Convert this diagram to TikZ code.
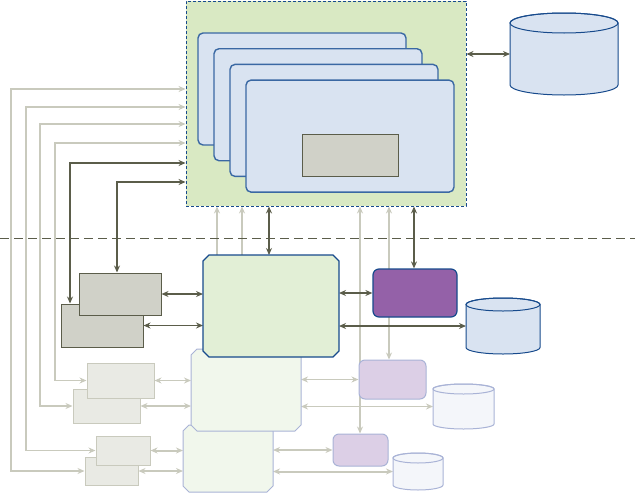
\documentclass[tikz,border=0pt]{standalone}
\definecolor{PlanNavy}{HTML}{174A8C}
\definecolor{CardBlue}{HTML}{D9E3F1}
\definecolor{CardEdge}{HTML}{3A68A3}
\definecolor{ZoneGreen}{HTML}{D9E9C3}
\definecolor{CoreGreen}{HTML}{E2EFD6}
\definecolor{PaleGreen}{HTML}{F1F7EC}
\definecolor{SlateDark}{HTML}{5B5D4A}
\definecolor{SlateFill}{HTML}{D0D1C8}
\definecolor{SlateLight}{HTML}{C9CABD}
\definecolor{SlatePale}{HTML}{E9EAE4}
\definecolor{PlumDeep}{HTML}{9461A8}
\definecolor{PlumPale}{HTML}{DCCFE6}
\definecolor{PaleEdge}{HTML}{A9B3D6}
\definecolor{StorePale}{HTML}{F4F6FA}
\usepackage{tikz}
\usetikzlibrary{arrows.meta, backgrounds}

\begin{document}
\begin{tikzpicture}[x=1pt, y=-1pt, >={Stealth[length=7pt,width=6pt]},
		zone/.style={draw=PlanNavy, dash pattern=on 3pt off 2pt, line width=0.9pt, fill=ZoneGreen, minimum width=280pt, minimum height=205pt, inner sep=0pt},
		card/.style={draw=CardEdge, line width=1.4pt, fill=CardBlue, rounded corners=5pt, minimum width=208pt, minimum height=112pt, inner sep=0pt},
		slate/.style={draw=SlateDark, line width=1pt, fill=SlateFill, inner sep=0pt},
		pale/.style={draw=SlateLight, line width=1pt, fill=SlatePale, inner sep=0pt},
		hollow/.style={rectangle, draw=none, inner sep=0pt, outer sep=0pt},
		plum/.style={draw=PlanNavy, line width=1.2pt, fill=PlumDeep, rounded corners=6pt, inner sep=0pt},
		plumpale/.style={plum, draw=PaleEdge, line width=1pt, fill=PlumPale},
		dark/.style={draw=SlateDark, line width=1.8pt},
		lite/.style={draw=SlateLight, line width=1.2pt}]
	\useasboundingbox (0,0) rectangle (635,493);
	\node[zone] (zone) at (326,103.5) {};
	\foreach \i in {0,...,3}
		\node[card] (card\i) at (302+16*\i, 89+15.7*\i) {};
	\node[slate, minimum width=96pt, minimum height=42pt] (probe) at (350,155) {};
	\draw[draw=SlateDark, dash pattern=on 9pt off 5pt, line width=0.9pt] (0,238) -- (635,238);
	\node[slate, minimum width=82pt, minimum height=43pt] (gb2) at (102,325.5) {};
	\node[slate, minimum width=82pt, minimum height=42pt] (gb1) at (120,294) {};
	\node[pale, minimum width=67pt, minimum height=34pt] (lb2) at (106.5,406) {};
	\node[pale, minimum width=67pt, minimum height=35pt] (lb1) at (120.5,380.5) {};
	\node[pale, minimum width=53pt, minimum height=28pt] (lb4) at (111.5,471) {};
	\node[pale, minimum width=54pt, minimum height=29pt] (lb3) at (123,450.5) {};
	\foreach \n/\cx/\cy/\w/\h/\fc/\dc/\lw in {hostB/228/458.5/90/67/PaleGreen/PaleEdge/1, hostA/246/390/110/82/PaleGreen/PaleEdge/1, core/271/306/136/102/CoreGreen/PlanNavy/1.3}{
		\node[hollow, minimum width=\w pt, minimum height=\h pt] (\n) at (\cx,\cy) {};
		\filldraw[fill=\fc, draw=\dc, line width=\lw pt] ([xshift=6pt]\n.north west) -- ([xshift=-6pt]\n.north east) -- ([yshift=-6pt]\n.north east) -- ([yshift=6pt]\n.south east) -- ([xshift=-6pt]\n.south east) -- ([xshift=6pt]\n.south west) -- ([yshift=6pt]\n.south west) -- ([yshift=-6pt]\n.north west) -- cycle;
	}
	\node[plum, minimum width=84pt, minimum height=48pt] (worker) at (415,293) {};
	\node[plumpale, minimum width=67pt, minimum height=39pt] (task1) at (392.5,379.5) {};
	\node[plumpale, minimum width=55pt, minimum height=32pt] (task2) at (360.5,450) {};
	\foreach \n/\cx/\cy/\w/\h/\ry/\fc/\dc in {archive/564/54/108/62/10/CardBlue/PlanNavy, ledger/503/326/74/43/6.5/CardBlue/PlanNavy, ledger1/463.5/406.5/61/35/5/StorePale/PaleEdge, ledger2/418/471.5/50/27/5/StorePale/PaleEdge}{
		\node[hollow, minimum width=\w pt, minimum height=\h pt] (\n) at (\cx,\cy) {};
		\filldraw[fill=\fc, draw=\dc, line width=1pt] (\n.north west) -- (\n.south west) arc[start angle=180, end angle=360, x radius=0.5*\w pt, y radius=\ry pt] -- (\n.north east) arc[start angle=0, end angle=180, x radius=0.5*\w pt, y radius=\ry pt] -- cycle;
		\draw[draw=\dc, line width=1pt] (\n.north) ellipse [x radius=0.5*\w pt, y radius=\ry pt];
	}
	\begin{scope}[on background layer]
		\foreach \b/\x/\y in {lb4/11/89, lb3/26/107, lb2/40/124, lb1/55/143}
			\draw[lite, <->] (\b.west) -| (\x,\y) -- (zone.west |- 0,\y);
		\draw[dark, <->] (gb2.north -| 70,0) |- (zone.west |- 0,163);
		\draw[dark, <->] (gb1.north -| 117,0) |- (zone.west |- 0,182);
		\foreach \x in {217,242}
			\draw[lite, ->] (core.north -| \x,0) -- (zone.south -| \x,0);
		\draw[dark, line width=1.4pt, <->] (zone.south -| 269,0) -- (core.north -| 269,0);
		\draw[lite, line width=2pt, <->] (zone.south -| 360,0) -- (task2.north -| 360,0);
		\draw[lite, <->] (zone.south -| 389,0) -- (task1.north -| 389,0);
		\draw[dark, line width=1.4pt, <->] (zone.south -| 414,0) -- (worker.north -| 414,0);
		\draw[dark, line width=1.3pt, <->] (zone.east |- archive.west) -- (archive.west);
		\draw[dark, <->] (gb1.east) -- (gb1.east -| core.west);
		\draw[dark, <->] (gb2.east) -- (gb2.east -| core.west);
		\draw[dark, <->] (core.east |- worker.west) -- (worker.west);
		\draw[dark, <->] (core.east |- ledger.west) -- (ledger.west);
		\draw[lite, line width=1.6pt, <->] (lb1.east) -- (lb1.east -| hostA.west);
		\draw[lite, line width=1.6pt, <->] (lb2.east) -- (lb2.east -| hostA.west);
		\draw[lite, line width=2pt, <->] (lb3.east) -- (lb3.east -| hostB.west);
		\draw[lite, line width=2pt, <->] (lb4.east) -- (lb4.east -| hostB.west);
		\draw[lite, line width=1.6pt, <->] (hostA.east |- task1.west) -- (task1.west);
		\draw[lite, line width=1.6pt, <->] (hostA.east |- ledger1.west) -- (ledger1.west);
		\draw[lite, line width=2pt, <->] (hostB.east |- task2.west) -- (task2.west);
		\draw[lite, line width=2pt, <->] (hostB.east |- ledger2.west) -- (ledger2.west);
	\end{scope}
\end{tikzpicture}
\end{document}
